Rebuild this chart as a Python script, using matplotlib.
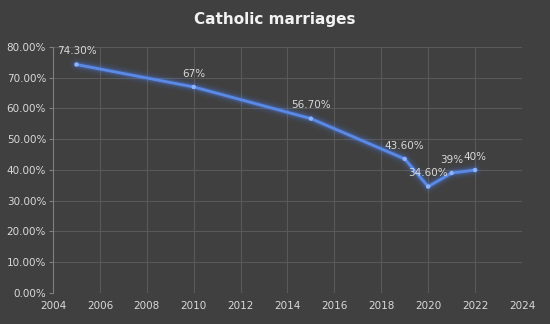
import matplotlib
matplotlib.use("Agg")
import matplotlib.pyplot as plt
from matplotlib.ticker import FuncFormatter, MultipleLocator

years = [2005, 2010, 2015, 2019, 2020, 2021, 2022]
values = [74.3, 67, 56.7, 43.6, 34.6, 39, 40]
labels = ["74.30%", "67%", "56.70%", "43.60%", "34.60%", "39%", "40%"]
title = "Catholic marriages"

bg = "#404040"
fig = plt.figure(figsize=(5.5, 3.24), dpi=100, facecolor=bg)
ax = fig.add_axes([0.0964, 0.0957, 0.8526, 0.7593], facecolor=bg)

line_color = "#4472c4"
# glow
for w, a in [(10, 0.05), (7, 0.08), (5, 0.12), (3.5, 0.2)]:
    ax.plot(years, values, color="#4f86ff", lw=w, alpha=a, solid_capstyle="round", zorder=2)
ax.plot(years, values, color="#5a8ae6", lw=2, zorder=3)
ax.scatter(years, values, s=10, color="#8fb4ff", zorder=4, edgecolors="none")

for x, y, t in zip(years, values, labels):
    ax.annotate(t, (x, y), xytext=(0, 6), textcoords="offset points",
                ha="center", va="bottom", color="#d9d9d9", fontsize=7.5, zorder=5)

ax.set_xlim(2004, 2024)
ax.set_ylim(0, 80)
ax.xaxis.set_major_locator(MultipleLocator(2))
ax.yaxis.set_major_locator(MultipleLocator(10))
ax.yaxis.set_major_formatter(FuncFormatter(lambda v, p: f"{v:.2f}%"))
ax.grid(True, color="#595959", lw=0.8)
ax.set_axisbelow(True)
for s in ["top", "right", "bottom"]:
    ax.spines[s].set_visible(False)
ax.spines["left"].set_color("#7f7f7f")
ax.tick_params(axis="y", colors="#d9d9d9", labelsize=7.5, length=3, color="#7f7f7f", pad=2)
ax.tick_params(axis="x", colors="#d9d9d9", labelsize=7.5, length=0, pad=6)

fig.text(0.5, 0.94, title, ha="center", va="center", color="#f2f2f2",
         fontsize=11, fontweight="bold")

fig.savefig("out.png", dpi=100, facecolor=bg)
